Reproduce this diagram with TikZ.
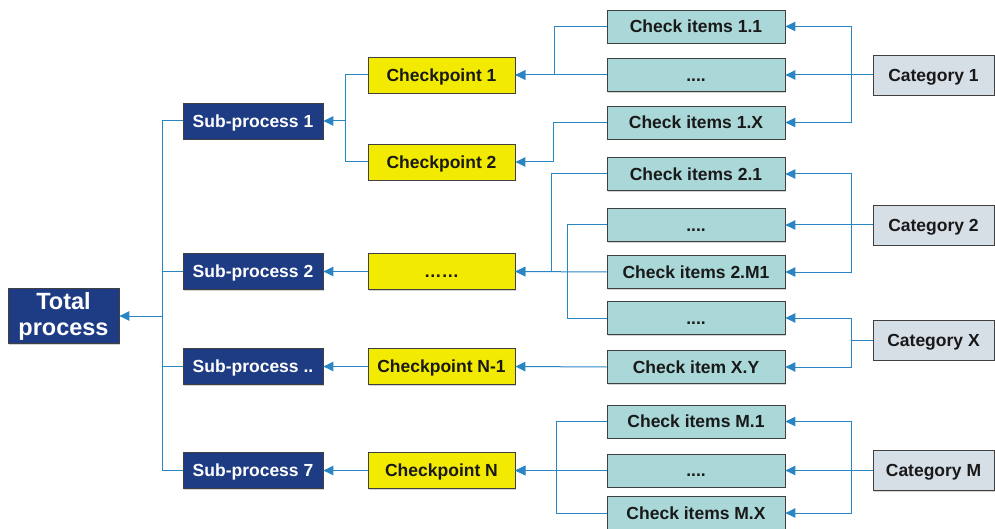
\documentclass[tikz,border=0pt]{standalone}
\usepackage{fontspec}
\setmainfont{Liberation Sans}
\usepackage{tikz}
\usetikzlibrary{arrows.meta,shadows}
\usepackage{xcolor}
\definecolor{procblue}{HTML}{1E3C84}
\definecolor{ptyellow}{HTML}{F2EA00}
\definecolor{itemteal}{HTML}{AAD7D7}
\definecolor{catgrey}{HTML}{D6DEE6}
\definecolor{linkblue}{HTML}{2A85C4}

\begin{document}
\begin{tikzpicture}[x=1pt,y=-1pt,
    box/.style={draw=black!75,line width=0.8pt,inner sep=0pt,align=center,
      text=black!90,font=\bfseries\fontsize{17.5}{19}\selectfont,
      drop shadow={shadow xshift=1.2pt,shadow yshift=-1.2pt,opacity=0.35}},
    oneline/.style={box,text height=12.6pt,text depth=0pt},
    totalbox/.style={box,fill=procblue,text=white,minimum width=111pt,minimum height=55pt,
      font=\bfseries\fontsize{23.5}{26}\selectfont},
    subproc/.style={oneline,fill=procblue,text=white,minimum width=140pt,minimum height=36pt},
    chkpt/.style={oneline,fill=ptyellow,minimum width=147pt,minimum height=36pt},
    chkitem/.style={oneline,fill=itemteal,minimum width=178pt,minimum height=33pt},
    categ/.style={oneline,fill=catgrey,minimum width=121pt,minimum height=40pt},
    link/.style={draw=linkblue,line width=1pt},
    arr/.style={link,-{Triangle[length=10pt,width=9.5pt]}}]

      \useasboundingbox (0,0) rectangle (995,529);

      % Process
      \node[totalbox] (total) at (63.5,316) {Total\\process};
      \node[subproc] (sp1) at (253,121) {Sub-process 1};
      \node[subproc] (sp2) at (253,271.5) {Sub-process 2};
      \node[subproc] (sp3) at (253,366.5) {Sub-process ..};
      \node[subproc] (sp7) at (253,470.5) {Sub-process 7};

      % Checkpoints
      \node[chkpt] (cp1) at (441.5,75) {Checkpoint 1};
      \node[chkpt] (cp2) at (441.5,162) {Checkpoint 2};
      \node[chkpt] (cp3) at (441.5,271.5) {……};
      \node[chkpt] (cp4) at (441.5,366.5) {Checkpoint N-1};
      \node[chkpt] (cp5) at (441.5,470.5) {Checkpoint N};

      % Check items
      \node[chkitem] (ci11) at (696,26.5) {Check items 1.1};
      \node[chkitem] (ci12) at (696,75) {....};
      \node[chkitem] (ci13) at (696,122.5) {Check items 1.X};
      \node[chkitem] (ci21) at (696,174) {Check items 2.1};
      \node[chkitem] (ci22) at (696,225) {....};
      \node[chkitem] (ci23) at (696,272) {Check items 2.M1};
      \node[chkitem] (ci24) at (696,318) {....};
      \node[chkitem] (ci25) at (696,367) {Check item X.Y};
      \node[chkitem] (ci31) at (696,421.5) {Check items M.1};
      \node[chkitem] (ci32) at (696,470.5) {....};
      \node[chkitem] (ci33) at (696,513) {Check items M.X};

      % Categories
      \node[categ] (cat1) at (933.5,75) {Category 1};
      \node[categ] (cat2) at (933.5,225) {Category 2};
      \node[categ] (catx) at (933.5,340) {Category X};
      \node[categ] (catm) at (933.5,470.5) {Category M};

      % Sub-processes -> total
      \draw[link] (sp1.west) -- ++(-20,0) |- (sp7.west);
      \draw[link] (sp2.west) -- ++(-20,0);
      \draw[link] (sp3.west) -- ++(-20,0);
      \draw[arr] ([xshift=-20pt]sp1.west |- total.east) -- (total.east);

      % Checkpoints -> sub-processes
      \draw[link] (cp1.west) -- ++(-22,0) |- (cp2.west);
      \draw[arr] ([xshift=-22pt]cp1.west |- sp1.east) -- (sp1.east);
      \draw[arr] (cp3.west) -- (sp2.east);
      \draw[arr] (cp4.west) -- (sp3.east);
      \draw[arr] (cp5.west) -- (sp7.east);

      % Check items -> checkpoints
      \draw[arr] (ci11.west) -- ++(-52,0) |- (cp1.east);
      \draw[arr] (ci12.west) -- (cp1.east);
      \draw[arr] (ci13.west) -- ++(-53,0) |- (cp2.east);
      \draw[arr] (ci21.west) -- ++(-55,0) |- (cp3.east);
      \draw[arr] (ci23.west) -- (cp3.east);
      \draw[link] (ci22.west) -- ++(-39,0) |- (ci24.west);
      \draw[arr] (ci25.west) -- (cp4.east);
      \draw[arr] (ci31.west) -- ++(-50,0) |- (cp5.east);
      \draw[arr] (ci33.west) -- ++(-50,0) |- (cp5.east);
      \draw[arr] (ci32.west) -- (cp5.east);

      % Categories -> check items
      \draw[arr] (cat1.west) -- ++(-21,0) |- (ci11.east);
      \draw[arr] (cat1.west) -- (ci12.east);
      \draw[arr] (cat1.west) -- ++(-21,0) |- (ci13.east);
      \draw[arr] (cat2.west) -- ++(-21,0) |- (ci21.east);
      \draw[arr] (cat2.west) -- (ci22.east);
      \draw[arr] (cat2.west) -- ++(-21,0) |- (ci23.east);
      \draw[arr] (catx.west) -- ++(-21,0) |- (ci24.east);
      \draw[arr] (catx.west) -- ++(-21,0) |- (ci25.east);
      \draw[arr] (catm.west) -- ++(-21,0) |- (ci31.east);
      \draw[arr] (catm.west) -- (ci32.east);
      \draw[arr] (catm.west) -- ++(-21,0) |- (ci33.east);
    \end{tikzpicture}
\end{document}
